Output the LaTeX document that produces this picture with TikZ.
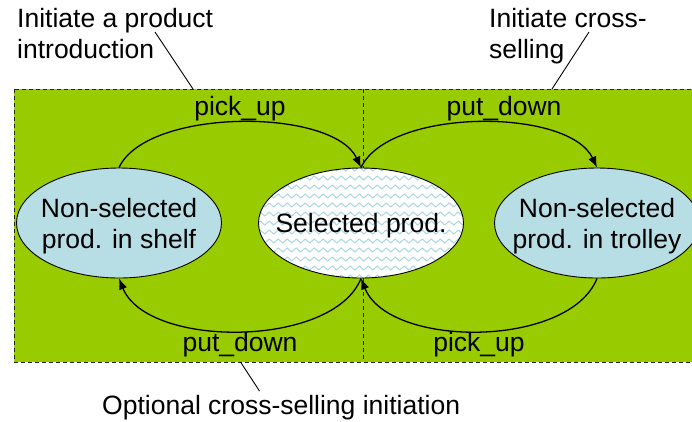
\documentclass[tikz,border=0pt]{standalone}
\usepackage{fontspec}
\setmainfont{Liberation Sans}
\usetikzlibrary{shapes.geometric,arrows.meta,decorations.pathmorphing}
\definecolor{areagreen}{RGB}{153,204,0}
\definecolor{statefill}{RGB}{183,222,228}
\definecolor{wavecol}{RGB}{172,215,226}
\begin{document}
\begin{tikzpicture}[x=1pt,y=-1pt,
  txt/.style={font=\fontsize{26.5}{31}\selectfont},
  state/.style={ellipse, draw=black, line width=0.9pt, minimum width=205pt,
    minimum height=110pt, inner xsep=-30pt, inner ysep=-15pt, align=center,
    text depth=0pt, txt},
  trans/.style={line width=1.3pt, -{Latex[length=11pt,width=8.5pt]}},
  zone/.style={dash pattern=on 4pt off 3pt, line width=0.9pt, draw=black!85},
  leader/.style={line width=0.9pt},
  callout/.style={txt, align=left, anchor=north west, inner sep=0pt},
  wavy/.style={wavecol, line width=1pt, decorate,
    decoration={zigzag, segment length=9pt, amplitude=2pt}}]
\useasboundingbox (0,0) rectangle (692,421);
\clip (0,0) rectangle (692,421);

% the two zones of the store
\fill[areagreen] (14,89) rectangle (692,362);
\draw[zone] (14,89) rectangle (692,362);
\draw[zone] (363,89) -- (363,362);

% states
\node[state, fill=statefill] (shelf) at (119,223) {Non-selected\\prod. in shelf};
\node[state, fill=white, path picture={
    \foreach \k in {-7,...,7}
      \draw[wavy] ([shift={(-112,\k*9)}]path picture bounding box.center) -- ++(224,0);
  }] (sel) at (361,223) {Selected prod.};
\node[state, fill=statefill] (trolley) at (597,223) {Non-selected\\prod. in trolley};

% transitions
\draw[trans] (shelf.north) .. controls +(28,-60) and +(-28,-60) .. (sel.north)
  node[midway, above, inner sep=1pt, txt] {pick\_up};
\draw[trans] (sel.north) .. controls +(28,-60) and +(-28,-60) .. (trolley.north)
  node[midway, above, inner sep=1pt, xshift=25pt, txt] {put\_down};
\draw[trans] (sel.south) .. controls +(-28,70) and +(28,70) .. (shelf.south)
  node[midway, below, inner sep=1pt, txt] {put\_down};
\draw[trans] (trolley.south) .. controls +(-28,70) and +(28,70) .. (sel.south)
  node[midway, below, inner sep=1pt, txt] {pick\_up};

% callouts
\node[callout] (intro) at (17,8) {Initiate a product\\introduction};
\node[callout] (cross) at (489,8) {Initiate cross-\\selling};
\node[txt, anchor=base west, inner sep=0pt] (opt) at (102,414) {Optional cross-selling initiation};

\coordinate (introfoot) at (155,32);
\coordinate (introtip) at (193,89);
\coordinate (crossfoot) at (589,32);
\coordinate (crosstip) at (552,89);
\coordinate (optfoot) at (259.5,391);
\coordinate (opttip) at (240.5,362);
\draw[leader] (introfoot) -- (introtip);
\draw[leader] (crossfoot) -- (crosstip);
\draw[leader] (optfoot) -- (opttip);
\end{tikzpicture}
\end{document}
